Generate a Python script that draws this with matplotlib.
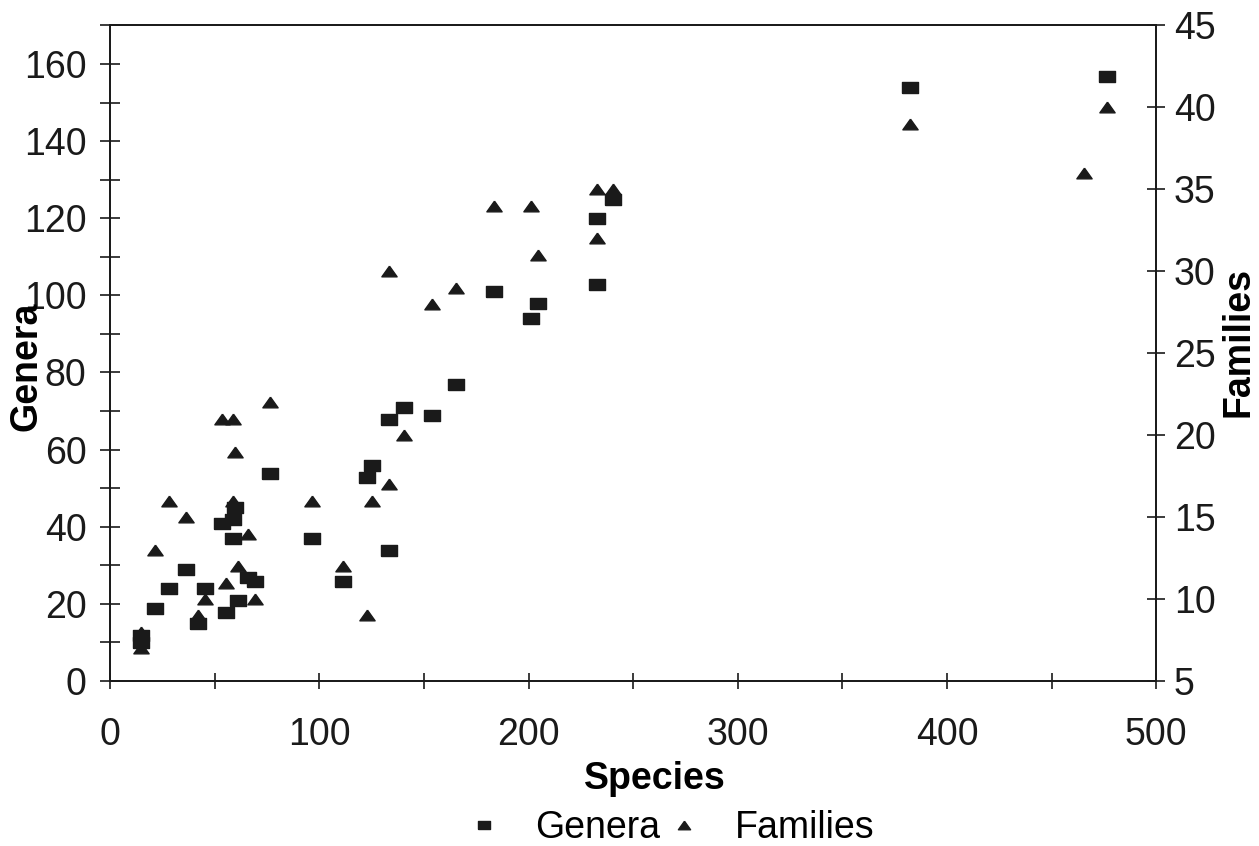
import numpy as np
import matplotlib
matplotlib.use('Agg')
import matplotlib.pyplot as plt
from matplotlib.ticker import MultipleLocator

# values
species = [15, 15, 21.5, 28.4, 36.5, 42.2, 45.5, 53.4, 55.4, 58.6, 59, 59.8, 61,
           65.7, 69.3, 76.5, 96.7, 111.5, 123, 125.3, 133.5, 133.5, 140.3, 154,
           165.5, 183.7, 201.2, 204.3, 232.6, 232.6, 240.5, 382.4, 465.7, 476.5]
genera = [12, 10, 19, 24, 29, 15, 24, 41, 18, 37, 42, 45, 21,
          27, 26, 54, 37, 26, 53, 56, 68, 34, 71, 69,
          77, 101, 94, 98, 120, 103, 125, 154, np.nan, 157]
families = [8, 7, 13, 16, 15, 9, 10, 21, 11, 16, 21, 19, 12,
            14, 10, 22, 16, 12, 9, 16, 30, 17, 20, 28,
            29, 34, 34, 31, 35, 32, 35, 39, 36, 40]

plt.rcParams['font.family'] = ['Liberation Sans', 'DejaVu Sans']
FS = 27

# flattened markers like the scanned original
rect = [(-1, -0.72), (1, -0.72), (1, 0.72), (-1, 0.72), (-1, -0.72)]
tri = [(0, 0.7), (-1, -0.7), (1, -0.7), (0, 0.7)]
ink = '#1a1a1a'

fig = plt.figure(figsize=(12.59, 8.46), dpi=100)
ax = fig.add_axes([0.0874, 0.195, 0.831, 0.775])
ax2 = ax.twinx()

ax.plot(species, genera, marker=rect, color=ink, markersize=11, linestyle='none', label='Genera')
ax2.plot(species, families, marker=tri, color=ink, markersize=11, linestyle='none', label='Families')

ax.set_xlim(0, 500)
ax.set_ylim(0, 170)
ax2.set_ylim(5, 45)

ax.xaxis.set_major_locator(MultipleLocator(100))
ax.xaxis.set_minor_locator(MultipleLocator(50))
ax.yaxis.set_major_locator(MultipleLocator(20))
ax.yaxis.set_minor_locator(MultipleLocator(10))
ax2.yaxis.set_major_locator(MultipleLocator(5))

for a in (ax, ax2):
    for s in a.spines.values():
        s.set_linewidth(1.3)
        s.set_color(ink)

ax.tick_params(axis='x', which='both', direction='inout', length=12, width=1.2,
               labelsize=FS, pad=20, colors=ink)
ax.tick_params(axis='y', which='both', direction='inout', length=14, width=1.2,
               labelsize=FS, pad=10, colors=ink)
ax2.tick_params(axis='y', direction='inout', length=13, width=1.2,
                labelsize=FS, pad=6, colors=ink)

ax.set_xlabel('Species', fontsize=FS, fontweight='bold', va='center')
ax.xaxis.set_label_coords(0.521, -0.15)
ax.set_ylabel('Genera', fontsize=FS, fontweight='bold', va='center')
ax.yaxis.set_label_coords(-0.08, 0.48)
ax2.set_ylabel('Families', fontsize=FS, fontweight='bold', va='center', rotation=90)
ax2.yaxis.set_label_coords(1.079, 0.517)

h1, l1 = ax.get_legend_handles_labels()
h2, l2 = ax2.get_legend_handles_labels()
fig.legend(h1 + h2, l1 + l2, loc='center', bbox_to_anchor=(0.532, 0.021), ncol=2,
           frameon=False, fontsize=FS, markerscale=0.8, handlelength=1.0,
           handletextpad=0.85, columnspacing=0.15, borderpad=0)

fig.savefig('out.png', dpi=100)
